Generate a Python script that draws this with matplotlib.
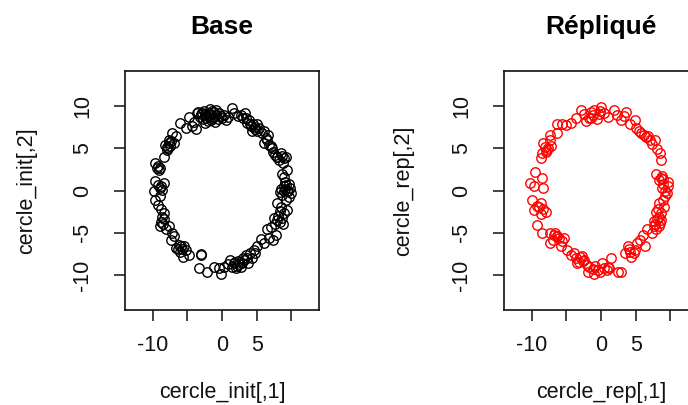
import numpy as np
import matplotlib
matplotlib.use("Agg")
import matplotlib.pyplot as plt

plt.rcParams['font.family'] = ['Liberation Sans', 'DejaVu Sans']

# cercle_init (Base)
base_x = [-3.4, -3.0, -2.6, -2.2, -1.9, -1.5, -1.2, -0.8, -0.4, 0.0, 0.3, -2.8, -2.0, -1.0, -3.2, -0.6, 0.6, -2.4, -1.7, -1.4,
          -2.9, -2.3, -1.6, -1.1, -0.2, 0.9, -3.6, -2.5, -1.8, -0.9,
          1.5, 1.8, 2.3, 2.7, 3.0, 3.3, 3.6, 3.9, 4.2, 4.5, 4.8, 5.1, 4.4, 5.4, 5.8, 6.1, 6.3, 6.5, 6.0, 6.8, 7.0, 7.3, 7.6, 8.0, 8.5, 8.2, 9.2, 8.8, 9.4, 8.6, 8.9, 9.1,
          4.0, 4.7, 5.0, 3.4, 6.6, 7.2, 8.7, 8.9, 7.9,
          8.9, 9.4, 9.9, 9.6, 8.5, 9.0, 9.8, 8.7, 9.2, 9.6, 8.5, 7.9, 8.9, 8.3, 9.4, 8.0, 8.6, 8.8, 7.5, 7.0, 7.7, 6.5, 7.3, 7.8, 6.8, 6.1, 5.6, 5.1, 4.6, 4.1, 4.4, 3.5, 3.2, 3.8, 2.7, 2.9, 2.3, 2.0, 1.7, 1.2, 1.5, 0.8, 0.3, -0.2, -0.5, -1.2, -2.1, -3.3,
          9.1, 9.3, 8.4, 9.5, 8.1, 8.4, 2.5, 3.0, 2.1, 1.9, 3.6, 4.8,
          -3.1, -3.0,
          -4.8, -5.7, -5.5, -5.2, -6.0, -6.7, -6.2, -5.8, -7.4, -7.2, -6.9, -8.1, -7.6, -8.8, -8.3, -8.9, -8.4, -8.8, -9.3, -9.6, -9.0, -9.8, -9.6, -8.4, -8.8, -9.2, -8.6,
          -6.4, -5.9, -8.5, -8.7, -9.0,
          -9.1, -9.6, -9.3, -8.9, -8.4, -7.9, -7.5, -8.2, -6.9, -7.6, -7.8, -7.2, -6.6, -6.0, -5.2, -4.8, -4.0, -4.3, -3.7,
          -7.7, -8.0, -7.3, -9.4]
base_y = [9.3, 9.0, 9.4, 8.8, 9.2, 8.6, 9.3, 8.9, 9.1, 8.5, 8.9, 8.4, 8.2, 8.1, 8.7, 8.4, 8.3, 9.0, 8.9, 9.4,
          9.1, 8.6, 8.3, 8.7, 8.8, 8.7, 9.2, 8.0, 9.6, 9.5,
          9.7, 9.2, 8.8, 8.9, 8.6, 9.1, 8.0, 8.3, 7.6, 7.9, 7.2, 7.9, 7.0, 7.4, 6.8, 7.0, 6.2, 6.0, 5.6, 5.4, 5.2, 4.6, 4.2, 4.0, 4.4, 3.6, 4.0, 3.3, 2.4, 2.0, 1.6, 1.0,
          7.8, 7.5, 7.0, 8.6, 6.6, 5.0, 4.1, 3.8, 3.9,
          0.5, -0.1, -0.3, 0.8, 0.2, 0.0, 0.3, -0.5, -1.1, -0.8, -1.9, -1.5, -2.7, -2.4, -2.3, -3.5, -3.2, -3.9, -3.3, -4.3, -4.0, -4.6, -5.8, -5.3, -5.6, -6.2, -5.7, -6.6, -7.0, -7.4, -8.0, -7.6, -8.2, -8.5, -9.0, -8.6, -8.3, -9.2, -8.6, -8.2, -9.0, -8.7, -9.0, -9.8, -9.1, -9.0, -9.6, -9.2,
          0.2, 0.6, -0.2, -0.1, -3.0, -3.7, -8.7, -8.0, -8.9, -8.4, -8.0, -7.4,
          -7.6, -7.5,
          -7.6, -7.8, -6.6, -7.0, -7.2, -6.8, -6.4, -6.9, -5.8, -5.0, -5.4, -4.6, -4.2, -3.7, -3.4, -4.2, -2.7, -2.2, -1.7, -1.1, -0.6, -0.1, 1.1, 0.9, 0.5, 0.6, 0.1,
          -6.9, -6.5, -3.9, -3.1, 0.3,
          2.4, 3.2, 2.9, 2.7, 4.0, 4.8, 5.2, 5.4, 5.6, 6.0, 5.0, 6.8, 6.4, 8.0, 7.4, 8.7, 8.1, 7.6, 7.2,
          5.6, 5.1, 5.8, 2.7]

# cercle_rep (Répliqué)
rep_x = [-9.5, -10.2, -9.7, -8.5, -8.3, -9.95, -9.7, -8.7, -8.0, -9.2, -8.9, -8.3, -9.3, -8.6,
         -8.5, -7.3, -6.3, -5.3, -7.3, -5.8, -4.9, -3.9, -3.4, -2.4, -1.7, -1.9, -0.5, 0.2, 1.0, 1.5, 2.4, 2.9,
         -6.8, -6.0, -5.6, -6.4, -3.0, -2.6, -3.2, -2.8, -1.2, -0.8, -0.2, 0.5,
         -6.6, -7.0, -4.4, -3.6, -2.0, -1.0, 0.8, 1.2,
         3.4, 3.9, 4.4, 4.9, 5.6, 6.3, 6.6, 7.3, 7.8, 8.3, 8.7, 8.3, 9.0, 9.5, 9.7, 8.7, 8.0,
         4.2, 4.7, 4.0, 7.6, 8.1, 8.4, 7.9, 8.5, 9.2, 8.9, 9.3, 8.2,
         7.7, 8.0, 8.6, 5.2, 6.0, 9.1, 8.8, 9.6,
         8.7, 8.5, 7.8, 6.8, 5.8, 5.1, 4.9, 3.6, 2.9, 1.9, 1.0, 0.0, -1.0, -1.5, -2.9, -3.6, -4.4, -5.6, -6.3, -6.3, -7.3, -8.3, -7.8, -8.5, -8.7,
         6.2, 6.5, 5.5, 7.0, -1.8, -1.2, -0.6, -2.2, 0.4, -0.3, -7.6, -7.2, -8.0, 8.8, 9.0, 8.4,
         -2.5, -1.4, -0.1, 2.3, 3.3, 4.2, 7.3, 8.1, -7.4, -8.1, -5.0]
rep_y = [2.2, 0.9, 0.5, 1.5, 0.3, -1.1, -2.3, -1.5, -2.5, -4.1, -2.0, -2.2, -1.8, -2.8,
         -5.0, -5.0, -5.4, -5.6, -6.2, -6.6, -7.0, -7.4, -8.6, -8.2, -9.0, -9.6, -9.4, -8.6, -9.0, -8.0, -9.6, -9.6,
         -5.2, -5.6, -5.9, -5.4, -7.9, -8.3, -8.4, -7.7, -9.3, -8.9, -9.6, -9.2,
         -5.0, -5.8, -7.6, -8.0, -8.8, -9.8, -9.4, -9.2,
         -7.4, -6.6, -7.8, -7.0, -5.8, -6.6, -4.6, -5.0, -3.9, -3.1, -2.7, -1.5, -1.1, -0.3, 0.5, 1.5, 1.9,
         -7.2, -7.4, -6.9, -3.6, -3.4, -4.2, -4.5, -3.8, 0.0, 1.3, -0.7, -2.2,
         -4.2, -2.5, -3.5, -6.2, -5.3, -1.9, 0.3, 1.0,
         3.6, 4.4, 6.0, 6.4, 6.8, 7.4, 8.3, 9.3, 8.3, 9.5, 8.7, 9.9, 9.5, 8.5, 9.5, 8.5, 8.0, 7.8, 7.8, 6.8, 6.0, 5.6, 4.8, 4.4, 3.8,
         6.6, 6.3, 7.0, 6.0, 8.6, 8.9, 8.4, 8.2, 9.1, 9.0, 5.0, 5.3, 4.6, 1.7, 0.8, 1.2,
         9.0, 9.3, 9.4, 8.9, 8.8, 7.9, 5.5, 4.9, 6.5, 5.1, 7.7]

ticks = [-10, -5, 0, 5, 10]
xticklabels = ['-10', '', '0', '5', '']
yticklabels = ['-10', '-5', '0', '5', '10']

fig = plt.figure(figsize=(6.88, 4.05), dpi=100)
ax1 = fig.add_axes([125/688, 1-310/405, 194/688, 239/405])
ax2 = fig.add_axes([504/688, 1-310/405, 194/688, 239/405])

panels = [(ax1, base_x, base_y, 'black', 'Base', 'cercle_init[,1]', 'cercle_init[,2]', -0.454),
          (ax2, rep_x, rep_y, 'red', 'Répliqué', 'cercle_rep[,1]', 'cercle_rep[,2]', -0.464)]

for ax, xs, ys, col, titre, xl, yl, ylpos in panels:
    ax.plot(xs, ys, 'o', mfc='none', mec=col, ms=6.8, mew=1.0)
    ax.set_xlim(-14, 14)
    ax.set_ylim(-14.1, 14.1)
    ax.set_xticks(ticks)
    ax.set_xticklabels(xticklabels)
    ax.set_yticks(ticks)
    ax.set_yticklabels(yticklabels, rotation=90, va='center')
    ax.tick_params(axis='both', direction='out', length=8, width=1.1, labelsize=15.5, colors='#111111')
    ax.tick_params(axis='y', pad=15)
    ax.tick_params(axis='x', pad=10)
    for s in ax.spines.values():
        s.set_linewidth(1.2)
        s.set_color('#111111')
    ax.set_xlabel(xl, fontsize=15.5, color='#111111')
    ax.xaxis.set_label_coords(0.5, -0.302)
    ax.set_ylabel(yl, fontsize=15.5, color='#111111')
    ax.yaxis.set_label_coords(ylpos, 0.5)
    ax.text(0.5, 1.185, titre, transform=ax.transAxes, ha='center', va='center',
            fontsize=19, fontweight='bold')

fig.savefig('out.png', dpi=100)
